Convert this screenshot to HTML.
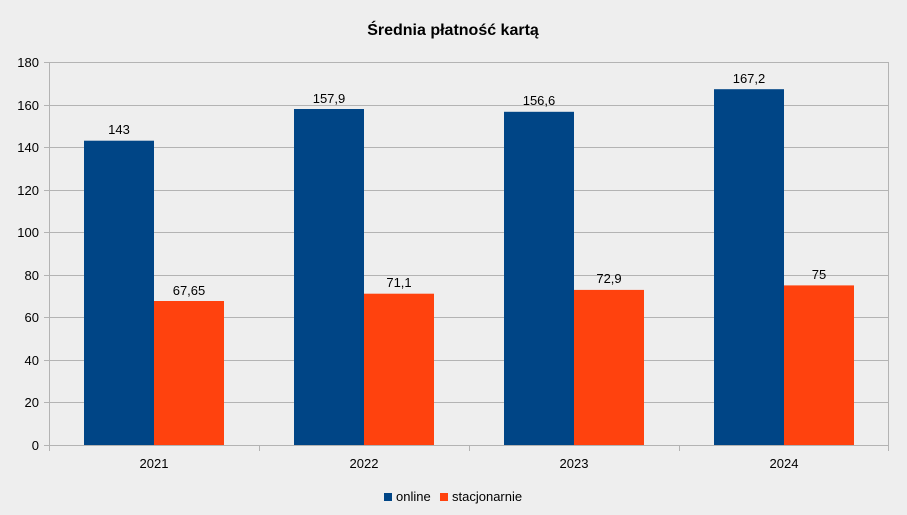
<!DOCTYPE html><html><head><style>body{margin:0;background:#eeeeee}</style></head><body>
<svg width="907" height="510" xmlns="http://www.w3.org/2000/svg" font-family="Liberation Sans, sans-serif">
<rect width="907" height="510" fill="#eeeeee"/>
<text x="453" y="35" text-anchor="middle" font-size="16" font-weight="bold" fill="#000">Średnia płatność kartą</text>
<g stroke="#b3b3b3" stroke-width="1">
<line x1="49" y1="62.5" x2="888" y2="62.5"/>
<line x1="49" y1="105.5" x2="888" y2="105.5"/>
<line x1="49" y1="147.5" x2="888" y2="147.5"/>
<line x1="49" y1="190.5" x2="888" y2="190.5"/>
<line x1="49" y1="232.5" x2="888" y2="232.5"/>
<line x1="49" y1="275.5" x2="888" y2="275.5"/>
<line x1="49" y1="317.5" x2="888" y2="317.5"/>
<line x1="49" y1="360.5" x2="888" y2="360.5"/>
<line x1="49" y1="402.5" x2="888" y2="402.5"/>
<line x1="888.5" y1="62" x2="888.5" y2="445"/>
<line x1="44" y1="62.5" x2="49" y2="62.5"/><line x1="44" y1="105.5" x2="49" y2="105.5"/><line x1="44" y1="147.5" x2="49" y2="147.5"/><line x1="44" y1="190.5" x2="49" y2="190.5"/><line x1="44" y1="232.5" x2="49" y2="232.5"/><line x1="44" y1="275.5" x2="49" y2="275.5"/><line x1="44" y1="317.5" x2="49" y2="317.5"/><line x1="44" y1="360.5" x2="49" y2="360.5"/><line x1="44" y1="402.5" x2="49" y2="402.5"/><line x1="44" y1="445.5" x2="49" y2="445.5"/>
</g>
<g>
<rect x="84" y="140.7" width="70" height="304.3" fill="#004586"/>
<rect x="154" y="301" width="70" height="144" fill="#ff420e"/>
<rect x="294" y="109" width="70" height="336" fill="#004586"/>
<rect x="364" y="293.7" width="70" height="151.3" fill="#ff420e"/>
<rect x="504" y="111.8" width="70" height="333.2" fill="#004586"/>
<rect x="574" y="289.9" width="70" height="155.1" fill="#ff420e"/>
<rect x="714" y="89.2" width="70" height="355.8" fill="#004586"/>
<rect x="784" y="285.4" width="70" height="159.6" fill="#ff420e"/>
</g>
<g stroke="#b3b3b3" stroke-width="1">
<line x1="49.5" y1="62" x2="49.5" y2="451"/>
<line x1="49" y1="445.5" x2="888" y2="445.5"/>
<line x1="259.5" y1="445" x2="259.5" y2="451"/>
<line x1="469.5" y1="445" x2="469.5" y2="451"/>
<line x1="679.5" y1="445" x2="679.5" y2="451"/>
<line x1="888.5" y1="445" x2="888.5" y2="451"/>
</g>
<g font-size="13" fill="#000" text-anchor="end">
<text x="39" y="67">180</text><text x="39" y="110">160</text><text x="39" y="152">140</text><text x="39" y="195">120</text><text x="39" y="237">100</text><text x="39" y="280">80</text><text x="39" y="322">60</text><text x="39" y="365">40</text><text x="39" y="407">20</text><text x="39" y="450">0</text>
</g>
<g font-size="13" fill="#000" text-anchor="middle">
<text x="154" y="468">2021</text><text x="364" y="468">2022</text><text x="574" y="468">2023</text><text x="784" y="468">2024</text>
<text x="119" y="134">143</text><text x="189" y="295">67,65</text>
<text x="329" y="103">157,9</text><text x="399" y="287">71,1</text>
<text x="539" y="105">156,6</text><text x="609" y="283">72,9</text>
<text x="749" y="83">167,2</text><text x="819" y="279">75</text>
</g>
<rect x="384" y="493" width="8" height="8" fill="#004586"/>
<text x="396" y="501" font-size="13">online</text>
<rect x="440" y="493" width="8" height="8" fill="#ff420e"/>
<text x="452" y="501" font-size="13">stacjonarnie</text>
</svg>
</body></html>
